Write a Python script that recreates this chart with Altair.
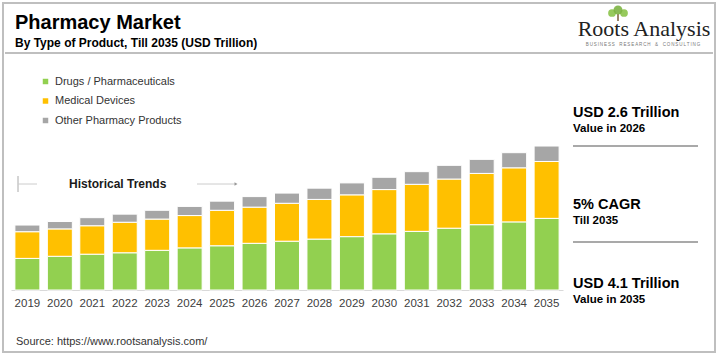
import altair as alt
import pandas as pd

years = [str(y) for y in range(2019, 2036)]
drugs = [0.90, 0.96, 1.02, 1.06, 1.13, 1.20, 1.26, 1.33, 1.39, 1.45, 1.52, 1.60, 1.67, 1.76, 1.86, 1.94, 2.04]
devices = [0.76, 0.78, 0.81, 0.87, 0.89, 0.92, 1.01, 1.03, 1.08, 1.13, 1.19, 1.26, 1.34, 1.40, 1.46, 1.54, 1.62]
others = [0.19, 0.21, 0.23, 0.23, 0.25, 0.26, 0.26, 0.30, 0.29, 0.32, 0.34, 0.35, 0.36, 0.39, 0.40, 0.43, 0.44]
series = ["Drugs / Pharmaceuticals", "Medical Devices", "Other Pharmacy Products"]
colors = ["#92D050", "#FFC000", "#A6A6A6"]

rows = []
for i, y in enumerate(years):
    for k, (name, vals) in enumerate(zip(series, [drugs, devices, others])):
        rows.append({"year": y, "type": name, "value": vals[i], "ord": k})
df = pd.DataFrame(rows)

FONT = "Liberation Sans"
L, T = 11, 60  # padding offsets

bars = alt.Chart(df).mark_bar(stroke="white", strokeWidth=1).encode(
    x=alt.X("year:N", sort=years,
            scale=alt.Scale(paddingInner=0.23, paddingOuter=0.12),
            axis=alt.Axis(title=None, labelAngle=0, ticks=False, domain=True,
                          domainColor="#d9d9d9", labelFont=FONT, labelFontSize=11.5,
                          labelColor="#404040", labelPadding=7)),
    y=alt.Y("value:Q", stack="zero", scale=alt.Scale(domain=[0, 6.55], nice=False),
            axis=None),
    color=alt.Color("type:N", sort=series,
                    scale=alt.Scale(domain=series, range=colors),
                    legend=alt.Legend(title=None, orient="none", legendX=29, legendY=16,
                                      symbolType="square", symbolSize=30,
                                      symbolStrokeWidth=0, labelFont=FONT,
                                      labelFontSize=11, labelColor="#333333",
                                      rowPadding=7.5, labelOffset=4)),
    order=alt.Order("ord:Q", sort="ascending"),
)


def txt(s, x, y, size, bold=False, color="#000000", font=FONT, align="left"):
    return alt.Chart(pd.DataFrame({"t": [s]})).mark_text(
        align=align, baseline="alphabetic", font=font, fontSize=size,
        fontWeight="bold" if bold else "normal", color=color
    ).encode(text="t:N", x=alt.value(x - L), y=alt.value(y - T))


def rule(x1, x2, y1, y2, color="#bfbfbf", w=2):
    return alt.Chart(pd.DataFrame({"a": [0]})).mark_rule(color=color, strokeWidth=w).encode(
        x=alt.value(x1 - L), x2=alt.value(x2 - L), y=alt.value(y1 - T), y2=alt.value(y2 - T))


def dot(x, y, size, color, opacity=1.0, shape="circle"):
    return alt.Chart(pd.DataFrame({"a": [0]})).mark_point(
        filled=True, color=color, size=size, opacity=opacity, shape=shape).encode(
        x=alt.value(x - L), y=alt.value(y - T))


border = alt.Chart(pd.DataFrame({"a": [0]})).mark_rect(
    fill="transparent", stroke="#bfbfbf", strokeWidth=2).encode(
    x=alt.value(3 - L), x2=alt.value(715 - L), y=alt.value(3 - T), y2=alt.value(352 - T))

tagline = "\u2003".join("\u2009".join(w) for w in ["BUSINESS", "RESEARCH", "&", "CONSULTING"])

layers = [
    border,
    rule(5, 713, 53, 53),
    txt("Pharmacy Market", 15, 29, 20, bold=True),
    txt("By Type of Product, Till 2035 (USD Trillion)", 15, 47, 12, bold=True),
    rule(618, 618, 14, 21, color="#7a5c3a", w=1.5),
    dot(612, 13, 60, "#8bc34a", 0.9),
    dot(624, 13, 60, "#8bc34a", 0.9),
    dot(618, 10, 80, "#7cb342", 0.9),
    txt("Roots Analysis", 644, 36, 22, font="Liberation Serif", align="center", color="#222222"),
    txt(tagline, 643, 46, 4.5, color="#777777", align="center"),
    rule(18, 18, 176, 192, color="#aaaaaa", w=1),
    rule(18, 37, 184, 184, color="#cccccc", w=1),
    rule(197, 236, 184, 184, color="#cccccc", w=1),
    dot(236, 184, 12, "#999999", shape="triangle-right"),
    txt("Historical Trends", 69, 188, 12, bold=True, color="#1a1a1a"),
    bars,
    txt("USD 2.6 Trillion", 573, 117, 14.5, bold=True),
    txt("Value in 2026", 573, 132, 11.5, bold=True),
    rule(573, 698, 146, 146, color="#8c8c8c", w=1.5),
    txt("5% CAGR", 573, 209, 14.5, bold=True),
    txt("Till 2035", 573, 224, 11.5, bold=True),
    rule(573, 698, 242, 242, color="#8c8c8c", w=1.5),
    txt("USD 4.1 Trillion", 573, 288, 14.5, bold=True),
    txt("Value in 2035", 573, 303, 11.5, bold=True),
    txt("Source: https://www.rootsanalysis.com/", 16, 345, 11, color="#333333"),
]

chart = alt.layer(*layers).properties(
    width=552, height=230,
    autosize=alt.AutoSizeParams(type="none"),
    padding={"left": L, "top": T, "right": 719 - 552 - L, "bottom": 357 - 230 - T},
    background="white",
).configure_view(stroke=None)

chart.save("out.html", embed_options={"renderer": "svg", "actions": False})
